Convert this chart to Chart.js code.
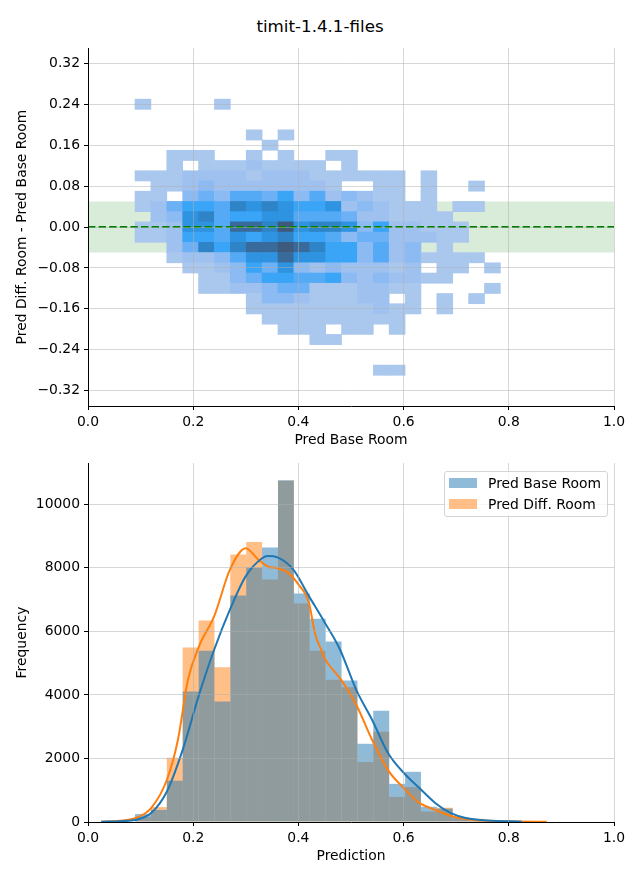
<!DOCTYPE html>
<html>
<head>
<meta charset="utf-8">
<script src="https://cdn.jsdelivr.net/npm/chart.js@4.4.0/dist/chart.umd.min.js"></script>
<style>
body { margin: 0; background: #fff; font-family: 'DejaVu Sans', sans-serif; }
#wrap { position: relative; width: 640px; height: 880px; }
canvas { position: absolute; left: 0; }
#title { position: absolute; left: 0; top: 16px; width: 640px; text-align: center; font-size: 16.7px; line-height: 20px; color: #000; }
#legend { position: absolute; left: 444px; top: 471px; width: 162px; height: 44px; border: 1px solid #d4d4d4; border-radius: 3px; background: rgba(255,255,255,0.8); font-size: 13.9px; color: #000; }
#legend .sw { position: absolute; left: 4px; width: 28px; height: 10px; }
#legend .lb { position: absolute; left: 43px; line-height: 16px; white-space: nowrap; }
</style>
</head>
<body>
<div id="wrap">
  <div id="title">timit-1.4.1-files</div>
  <canvas id="heatChart" width="640" height="449" style="top:0"></canvas>
  <canvas id="histChart" width="640" height="430" style="top:450px"></canvas>
  <div id="legend"></div>
</div>
<script>
// shared bin centres (Pred Base Room / Prediction)
const binCenters = [0.1045, 0.1347, 0.1649, 0.1951, 0.2253, 0.2555, 0.2857, 0.3159, 0.3461, 0.3763,
    0.4065, 0.4367, 0.4669, 0.4971, 0.5273, 0.5575, 0.5877, 0.6179, 0.6481, 0.6783,
    0.7085, 0.7387, 0.7689, 0.7991, 0.8293, 0.8595];

// row edges of the 2d histogram (Pred Diff. Room - Pred Base Room), top to bottom
const diffEdges = [0.25, 0.23, 0.21, 0.19, 0.17, 0.15, 0.13, 0.11, 0.09, 0.07, 0.05, 0.03, 0.01,
    -0.01, -0.03, -0.05, -0.07, -0.09, -0.11, -0.13, -0.15, -0.17, -0.19, -0.21, -0.23, -0.25, -0.27, -0.29];

// count level of each cell (0 = empty), one row per diff bin, one column per base bin
const heatLevels = [
    [1,0,0,0,0,1,0,0,0,0,0,0,0,0,0,0,0,0,0,0,0,0,0],
    [0,0,0,0,0,0,0,0,0,0,0,0,0,0,0,0,0,0,0,0,0,0,0],
    [0,0,0,0,0,0,0,0,0,0,0,0,0,0,0,0,0,0,0,0,0,0,0],
    [0,0,0,0,0,0,0,1,0,1,0,0,0,0,0,0,0,0,0,0,0,0,0],
    [0,0,0,0,0,0,0,0,1,0,0,0,0,0,0,0,0,0,0,0,0,0,0],
    [0,0,1,1,1,0,0,1,0,1,0,0,1,1,0,0,0,0,0,0,0,0,0],
    [0,0,1,0,1,1,1,2,1,1,1,1,0,1,0,0,0,0,0,0,0,0,0],
    [1,1,1,2,2,2,2,1,2,2,2,1,1,1,1,1,1,0,1,0,0,0,0],
    [0,1,1,2,3,2,2,2,2,2,2,2,1,0,0,1,1,0,1,0,0,1,0],
    [1,1,0,3,4,3,5,5,4,6,3,5,2,3,2,1,1,0,1,0,0,0,0],
    [1,2,4,6,6,5,8,7,8,7,6,6,7,2,3,2,1,1,1,0,1,1,0],
    [0,2,3,7,8,5,6,6,7,7,5,5,5,4,2,2,1,1,1,1,0,0,0],
    [1,1,2,7,7,5,9,9,8,10,7,8,8,7,3,6,2,2,1,1,1,0,0],
    [1,1,2,6,6,5,7,6,7,8,6,6,5,3,4,4,2,2,2,1,1,0,0],
    [0,0,2,4,8,6,8,9,9,10,9,8,6,6,3,5,2,3,0,1,0,0,0],
    [0,0,1,2,2,3,5,7,7,9,7,7,6,6,3,5,2,3,1,1,1,1,0],
    [0,0,0,1,1,2,3,6,4,7,3,2,3,2,2,2,1,2,0,1,1,0,1],
    [0,0,0,0,1,1,3,4,6,6,5,5,6,3,2,3,2,2,1,1,0,0,0],
    [0,0,0,0,1,1,2,2,3,4,4,1,1,1,2,2,1,1,0,0,0,0,1],
    [0,0,0,0,0,0,0,1,3,3,2,1,1,1,2,2,0,1,0,1,0,1,0],
    [0,0,0,0,0,0,0,1,1,1,1,1,1,1,1,2,1,1,0,1,0,0,0],
    [0,0,0,0,0,0,0,0,1,1,1,1,1,1,1,1,1,0,0,0,0,0,0],
    [0,0,0,0,0,0,0,0,0,1,1,1,0,1,1,0,1,0,0,0,0,0,0],
    [0,0,0,0,0,0,0,0,0,0,0,1,1,0,0,0,0,0,0,0,0,0,0],
    [0,0,0,0,0,0,0,0,0,0,0,0,0,0,0,0,0,0,0,0,0,0,0],
    [0,0,0,0,0,0,0,0,0,0,0,0,0,0,0,0,0,0,0,0,0,0,0],
    [0,0,0,0,0,0,0,0,0,0,0,0,0,0,0,1,1,0,0,0,0,0,0]
];

const tolerance = [-0.05, 0.05];

// histogram counts per bin
const seriesNames = ['Pred Base Room', 'Pred Diff. Room'];
const baseCounts = [250, 380, 1300, 4110, 5390, 3790, 7130, 8010, 8640, 10760, 7190, 6400, 5680,
    4450, 2460, 3500, 1200, 1580, 480, 420, 150, 50, 25, 0, 0, 0];
const diffCounts = [160, 470, 2020, 5490, 6340, 4870, 8420, 8810, 7630, 10740, 6880, 5390, 4480,
    4240, 1890, 2840, 790, 1100, 330, 450, 120, 50, 30, 20, 10, 5];

// kde curves
const baseKdeX = [0.025, 0.06, 0.089, 0.12, 0.15, 0.18, 0.211, 0.24, 0.27, 0.30, 0.331, 0.342, 0.36,
    0.39, 0.42, 0.45, 0.479, 0.51, 0.54, 0.57, 0.60, 0.63, 0.66, 0.69, 0.72, 0.76, 0.825];
const baseKdeY = [10, 25, 60, 280, 960, 2270, 4000, 5430, 6690, 7740, 8300, 8370, 8330,
    7950, 7110, 6280, 5430, 4160, 3220, 2180, 1550, 1070, 600, 280, 120, 50, 10];
const diffKdeX = [0.025, 0.06, 0.089, 0.12, 0.15, 0.171, 0.19, 0.211, 0.24, 0.27, 0.30, 0.323, 0.342,
    0.36, 0.38, 0.40, 0.42, 0.432, 0.443, 0.45, 0.481, 0.51, 0.54, 0.57, 0.60, 0.63, 0.66, 0.69,
    0.72, 0.76, 0.82, 0.872];
const diffKdeY = [10, 40, 120, 440, 1330, 2590, 4480, 5530, 6480, 7950, 8620, 8270, 8040,
    7990, 7850, 7480, 6900, 5900, 5430, 5150, 4480, 3690, 2590, 1640, 1070, 600, 380, 190,
    90, 40, 15, 5];

// tick labels
const xTicks = [0, 0.2, 0.4, 0.6, 0.8, 1.0];
const diffTicks = [-0.32, -0.24, -0.16, -0.08, 0, 0.08, 0.16, 0.24, 0.32];
const freqTicks = [0, 2000, 4000, 6000, 8000, 10000];

const levelColors = [null, '#aac7ed', '#9ec1f0', '#8bbbf2', '#6cb0f5', '#55aaf6',
    '#3aa4f6', '#2e93e0', '#2f84c8', '#386b9c', '#3d5a7c'];
const blueFill = 'rgba(31,119,180,0.5)';
const orangeFill = 'rgba(255,127,14,0.5)';

Chart.defaults.font.family = "'DejaVu Sans', sans-serif";
Chart.defaults.font.size = 13.9;
Chart.defaults.color = '#000';

function tickList(values) {
    return (scale) => { scale.ticks = values.map(v => ({ value: v })); };
}

function axis(opts) {
    return Object.assign({
        type: 'linear',
        offset: false,
        grid: { color: 'rgba(176,176,176,0.5)', lineWidth: 1, tickColor: '#000', tickLength: 4, offset: false, z: 1 },
        border: { display: true, color: '#000', width: 1, z: 2 },
        ticks: { padding: 4 },
    }, opts);
}

// --- top: 2d histogram
const cells = [];
const cellColors = [];
heatLevels.forEach((row, r) => {
    row.forEach((lvl, c) => {
        if (!lvl) return;
        cells.push({ x: binCenters[c], y: [diffEdges[r + 1], diffEdges[r]] });
        cellColors.push(levelColors[lvl]);
    });
});

new Chart(document.getElementById('heatChart'), {
    type: 'bar',
    data: {
        datasets: [
            {
                type: 'line',
                data: [{ x: 0, y: 0 }, { x: 1, y: 0 }],
                borderColor: '#008000',
                borderWidth: 2,
                borderDash: [7.4, 3.2],
                pointRadius: 0,
                order: 1,
            },
            {
                type: 'bar',
                data: cells,
                backgroundColor: cellColors,
                borderWidth: 0,
                barPercentage: 1,
                categoryPercentage: 1,
                grouped: false,
                order: 2,
            },
            {
                type: 'line',
                data: [{ x: 0, y: tolerance[1] }, { x: 1, y: tolerance[1] }],
                borderColor: 'rgba(0,0,0,0)',
                borderWidth: 0,
                pointRadius: 0,
                fill: { value: tolerance[0] },
                backgroundColor: 'rgba(0,128,0,0.15)',
                order: 3,
            },
        ],
    },
    options: {
        responsive: false,
        animation: false,
        layout: { padding: { left: 0, right: 26, top: 48, bottom: 0 } },
        plugins: { legend: { display: false }, tooltip: { enabled: false } },
        scales: {
            x: axis({
                min: 0, max: 1,
                afterBuildTicks: tickList(xTicks),
                afterFit: (s) => { s.height = 43; },
                ticks: { padding: 4, callback: (v) => v.toFixed(1) },
                title: { display: true, text: 'Pred Base Room', padding: { top: 0, bottom: 0 } },
            }),
            y: axis({
                min: -0.35, max: 0.35,
                afterBuildTicks: tickList(diffTicks),
                afterFit: (s) => { s.width = 88; },
                ticks: { padding: 4, callback: (v) => v.toFixed(2).replace('-', '\u2212') },
                title: { display: true, text: 'Pred Diff. Room - Pred Base Room', padding: { top: 13.7, bottom: 0 } },
            }),
        },
    },
});

// --- bottom: layered histograms with kde
const toPoints = (xs, ys) => xs.map((x, i) => ({ x: x, y: ys[i] }));

new Chart(document.getElementById('histChart'), {
    type: 'bar',
    data: {
        datasets: [
            {
                type: 'line',
                data: toPoints(baseKdeX, baseKdeY),
                borderColor: '#1f77b4',
                borderWidth: 2,
                pointRadius: 0,
                cubicInterpolationMode: 'monotone',
                order: 0,
            },
            {
                type: 'line',
                data: toPoints(diffKdeX, diffKdeY),
                borderColor: '#ff7f0e',
                borderWidth: 2,
                pointRadius: 0,
                cubicInterpolationMode: 'monotone',
                order: 1,
            },
            {
                label: seriesNames[0],
                data: toPoints(binCenters, baseCounts),
                backgroundColor: blueFill,
                borderWidth: 0,
                inflateAmount: 0,
                barPercentage: 1,
                categoryPercentage: 1,
                grouped: false,
                order: 2,
            },
            {
                label: seriesNames[1],
                data: toPoints(binCenters, diffCounts),
                backgroundColor: orangeFill,
                borderWidth: 0,
                inflateAmount: 0,
                barPercentage: 1,
                categoryPercentage: 1,
                grouped: false,
                order: 3,
            },
        ],
    },
    options: {
        responsive: false,
        animation: false,
        layout: { padding: { left: 0, right: 26, top: 13, bottom: 15 } },
        plugins: { legend: { display: false }, tooltip: { enabled: false } },
        scales: {
            x: axis({
                min: 0, max: 1,
                afterBuildTicks: tickList(xTicks),
                afterFit: (s) => { s.height = 43; },
                ticks: { padding: 4, callback: (v) => v.toFixed(1) },
                title: { display: true, text: 'Prediction', padding: { top: 0, bottom: 0 } },
            }),
            y: axis({
                min: 0, max: 11300,
                afterBuildTicks: tickList(freqTicks),
                afterFit: (s) => { s.width = 88; },
                ticks: { padding: 4, callback: (v) => String(v) },
                title: { display: true, text: 'Frequency', padding: { top: 13.7, bottom: 0 } },
            }),
        },
    },
});

// legend box
const legend = document.getElementById('legend');
[blueFill, orangeFill].forEach((col, i) => {
    const sw = document.createElement('div');
    sw.className = 'sw';
    sw.style.top = (6 + i * 21) + 'px';
    sw.style.background = col;
    legend.appendChild(sw);
    const lb = document.createElement('div');
    lb.className = 'lb';
    lb.style.top = (3 + i * 21) + 'px';
    lb.textContent = seriesNames[i];
    legend.appendChild(lb);
});
</script>
</body>
</html>
